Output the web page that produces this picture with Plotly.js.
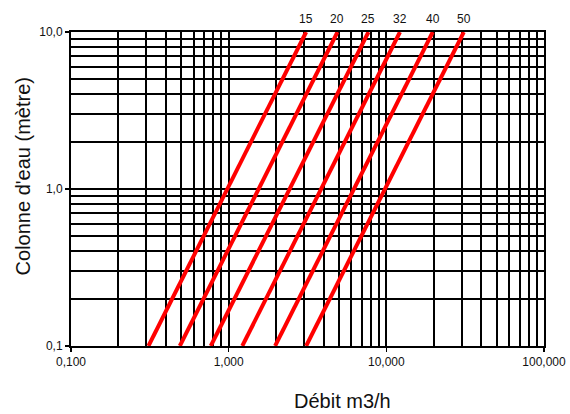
<!DOCTYPE html>
<html>
<head>
<meta charset="utf-8">
<script src="https://cdn.plot.ly/plotly-3.0.1.min.js"></script>
<style>html,body{margin:0;padding:0;background:#fff;}#chart{width:570px;height:414px;}</style>
</head>
<body>
<div id="chart"></div>
<script>
// Diameters (DN) of each curve
const diameters = ['15', '20', '25', '32', '40', '50'];
// Flow (m3/h) at the bottom (0,1 m) and at the top (10,0 m) of each curve
const flowAtLow = [0.31, 0.49, 0.77, 1.22, 1.97, 3.1];
const flowAtHigh = [3.1, 4.9, 7.7, 12.2, 19.7, 31];
// Head (m) at both ends
const headLow = 0.1;
const headHigh = 10;

const xTickVals = [0.1, 1, 10, 100];
const xTickText = ['0,100', '1,000', '10,000', '100,000'];
const yTickVals = [0.1, 1, 10];
const yTickText = ['0,1', '1,0', '10,0'];

function minorVals(decades) {
  const out = [];
  decades.forEach(d => { for (let k = 2; k <= 9; k++) out.push(+(d * k).toPrecision(3)); });
  return out;
}

const traces = diameters.map((name, i) => ({
  type: 'scatter', mode: 'lines', name: 'DN ' + name,
  x: [flowAtLow[i], flowAtHigh[i]],
  y: [headLow, headHigh],
  line: {color: '#ff0000', width: 4},
  showlegend: false, hoverinfo: 'skip'
}));

const labelAnns = diameters.map((name, i) => ({
  x: Math.log10(flowAtHigh[i]), y: Math.log10(headHigh),
  xref: 'x', yref: 'y', text: name, showarrow: false,
  yanchor: 'bottom', yshift: 4,
  font: {family: 'Liberation Sans, Arial, sans-serif', size: 12, color: '#111'}
}));

const gridStyle = {showgrid: true, gridcolor: '#000', gridwidth: 2};

const layout = {
  width: 570, height: 414,
  margin: {l: 71, r: 26, t: 32, b: 68},
  paper_bgcolor: '#fff', plot_bgcolor: '#fff',
  font: {family: 'Liberation Sans, Arial, sans-serif', size: 12, color: '#111'},
  xaxis: Object.assign({
    type: 'log', range: [-1, 2],
    tickmode: 'array', tickvals: xTickVals, ticktext: xTickText,
    ticks: 'outside', ticklen: 4, tickwidth: 1.5, tickcolor: '#000',
    showline: true, linecolor: '#000', linewidth: 2, mirror: true,
    zeroline: false,
    minor: Object.assign({tickmode: 'array', tickvals: minorVals([0.1, 1, 10]), ticks: ''}, gridStyle)
  }, gridStyle),
  yaxis: Object.assign({
    type: 'log', range: [-1, 1],
    tickmode: 'array', tickvals: yTickVals, ticktext: yTickText,
    ticks: 'outside', ticklen: 4, tickwidth: 1.5, tickcolor: '#000',
    showline: true, linecolor: '#000', linewidth: 2, mirror: true,
    zeroline: false,
    minor: Object.assign({tickmode: 'array', tickvals: minorVals([0.1, 1]), ticks: ''}, gridStyle)
  }, gridStyle),
  annotations: labelAnns.concat([
    {xref: 'paper', yref: 'paper', x: 0.573, y: -0.176, xanchor: 'center', yanchor: 'middle',
     text: 'Débit m3/h', showarrow: false, font: {size: 20, color: '#111'}},
    {xref: 'paper', yref: 'paper', x: -0.1015, y: 0.54, xanchor: 'center', yanchor: 'middle',
     textangle: -90, text: "Colonne d'eau (mètre)", showarrow: false, font: {size: 20, color: '#111'}}
  ]),
  showlegend: false
};

Plotly.newPlot('chart', traces, layout, {staticPlot: true, displayModeBar: false});
</script>
</body>
</html>
